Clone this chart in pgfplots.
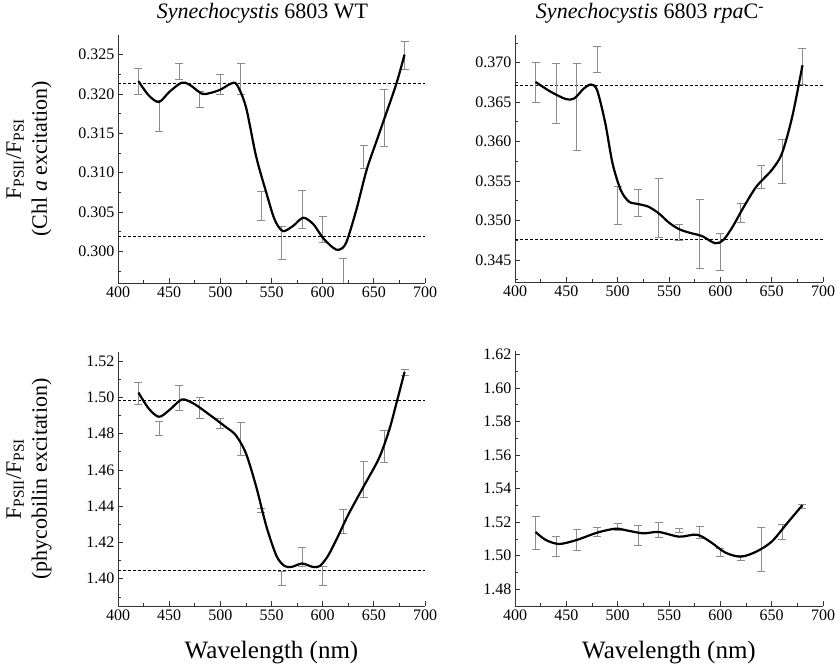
\documentclass[border=0pt]{standalone}
\usepackage{pgfplots}
\pgfplotsset{compat=1.18}
\usepackage{fontspec}
\setmainfont{Liberation Serif}
\definecolor{errgray}{gray}{0.55}
\definecolor{axgray}{gray}{0.2}

\pgfplotsset{
  panel/.style={
    scale only axis,
    xmin=400, xmax=700,
    xtick={400,450,500,550,600,650,700},
    minor xtick={425,475,525,575,625,675},
    axis x line*=bottom, axis y line*=left,
    axis line style={-, line width=0.8pt, axgray},
    tick align=inside, major tick length=5pt, minor tick length=3pt,
    tick style={line width=0.7pt, axgray},
    ticklabel style={font=\fontsize{16}{19}\selectfont},
    /pgf/number format/assume math mode=true,
    scaled y ticks=false,
    title style={font=\fontsize{22}{26}\selectfont, at={(axis description cs:0.5,1)}, anchor=base, yshift=10pt},
    xlabel style={font=\fontsize{25}{29}\selectfont, at={(axis description cs:0.5,0)}, anchor=base, yshift=-52pt},
    ylabel style={font=\fontsize{22}{26}\selectfont, align=center, at={(axis description cs:-0.29,0.5)}, anchor=center, rotate=0},
  },
  curve/.style={black, line width=2.2pt, smooth, mark=none},
  ref/.style={black, line width=0.9pt, dash pattern=on 3pt off 2pt, mark=none},
  ebar/.style={draw=none, mark=none, forget plot,
    error bars/.cd, y dir=both, y explicit,
    error bar style={draw=errgray, solid, line width=0.8pt},
    error mark options={rotate=90, draw=errgray, solid, mark size=4pt, line width=0.8pt}},
}

\begin{document}
\begin{tikzpicture}
\useasboundingbox (0,0) rectangle (837pt,666pt);

% ---------- top left ----------
\begin{axis}[panel, at={(118pt,383pt)}, anchor=south west, width=307pt, height=248pt,
  ymin=0.2960, ymax=0.3275,
  ytick={0.300,0.305,0.310,0.315,0.320,0.325},
  minor ytick={0.2975,0.3025,0.3075,0.3125,0.3175,0.3225},
  yticklabel style={/pgf/number format/.cd, fixed, fixed zerofill, precision=3},
  title={\textit{Synechocystis} 6803 WT}, title style={xshift=-9pt},
  ylabel={F\textsubscript{PSII}/F\textsubscript{PSI}\\(Chl \textit{a} excitation)}]
\addplot[ref] coordinates {(400,0.3213) (700,0.3213)};
\addplot[ref] coordinates {(400,0.3019) (700,0.3019)};
\addplot[ebar] coordinates {
(420,0.3216) +- (0,0.0017)
(440,0.3172) +- (0,0.0020)
(460,0.3229) +- (0,0.0010)
(480,0.3193) +- (0,0.0010)
(500,0.3212) +- (0,0.0013)
(520,0.3219) +- (0,0.0020)
(540,0.3058) +- (0,0.0018)
(560,0.3011) +- (0,0.0021)
(580,0.3053) +- (0,0.0024)
(600,0.3028) +- (0,0.0016)
(620,0.2970) +- (0,0.0021)
(640,0.3120) +- (0,0.0015)
(660,0.3170) +- (0,0.0036)
(680,0.3249) +- (0,0.0018)
};
\addplot[curve] coordinates {
(420,0.32164) (430,0.31983) (440,0.31899) (450,0.32025) (462,0.32143)
(470,0.32118) (482,0.32004) (490,0.32013) (500,0.32055) (510,0.32130)
(516,0.32122) (525,0.31836) (535,0.31206) (545,0.30744) (553,0.30408)
(561,0.30260) (571,0.30324) (581,0.30429) (591,0.30345) (600,0.30176)
(610,0.30050) (616,0.30021) (623,0.30113) (633,0.30534) (643,0.31038)
(653,0.31416) (662,0.31752) (672,0.32130) (680,0.32500)
};
\end{axis}

% ---------- top right ----------
\begin{axis}[panel, at={(515pt,384pt)}, anchor=south west, width=308pt, height=247pt,
  ymin=0.3422, ymax=0.3735,
  ytick={0.345,0.350,0.355,0.360,0.365,0.370},
  minor ytick={0.3425,0.3475,0.3525,0.3575,0.3625,0.3675,0.3725},
  yticklabel style={/pgf/number format/.cd, fixed, fixed zerofill, precision=3},
  title={\textit{Synechocystis} 6803 \textit{rpa}C\textsuperscript{-}}, title style={xshift=-19pt}]
\addplot[ref] coordinates {(400,0.36713) (700,0.36713)};
\addplot[ref] coordinates {(400,0.34761) (700,0.34761)};
\addplot[ebar] coordinates {
(420,0.3675) +- (0,0.0025)
(440,0.3661) +- (0,0.0038)
(460,0.3644) +- (0,0.0055)
(480,0.3704) +- (0,0.0016)
(500,0.3519) +- (0,0.0024)
(520,0.3522) +- (0,0.0017)
(540,0.3516) +- (0,0.0037)
(560,0.3485) +- (0,0.0010)
(580,0.3483) +- (0,0.0044)
(600,0.3460) +- (0,0.0023)
(620,0.3509) +- (0,0.0012)
(640,0.3555) +- (0,0.0015)
(660,0.3575) +- (0,0.0028)
(680,0.3695) +- (0,0.0023)
};
\addplot[curve] coordinates {
(420,0.36755) (435,0.36629) (450,0.36536) (458,0.36549) (467,0.36671)
(474,0.36722) (480,0.36650) (488,0.36228) (495,0.35723) (503,0.35385)
(511,0.35238) (520,0.35208) (530,0.35174) (540,0.35090) (550,0.34972)
(560,0.34888) (572,0.34837) (582,0.34803) (595,0.34711) (603,0.34753)
(612,0.34921) (622,0.35153) (635,0.35427) (650,0.35638) (660,0.35849)
(670,0.36313) (680,0.36966)
};
\end{axis}

% ---------- bottom left ----------
\begin{axis}[panel, at={(118pt,60pt)}, anchor=south west, width=307pt, height=254pt,
  ymin=1.385, ymax=1.525,
  ytick={1.40,1.42,1.44,1.46,1.48,1.50,1.52},
  minor ytick={1.39,1.41,1.43,1.45,1.47,1.49,1.51},
  yticklabel style={/pgf/number format/.cd, fixed, fixed zerofill, precision=2},
  xlabel={Wavelength (nm)},
  ylabel={F\textsubscript{PSII}/F\textsubscript{PSI}\\(phycobilin excitation)}]
\addplot[ref] coordinates {(400,1.49805) (700,1.49805)};
\addplot[ref] coordinates {(400,1.40477) (700,1.40477)};
\addplot[ebar] coordinates {
(420,1.5024) +- (0,0.0061)
(440,1.4829) +- (0,0.0037)
(460,1.4998) +- (0,0.0069)
(480,1.4941) +- (0,0.0058)
(500,1.4856) +- (0,0.0027)
(520,1.4771) +- (0,0.0089)
(540,1.4378) +- (0,0.0012)
(560,1.4003) +- (0,0.0039)
(580,1.4120) +- (0,0.0054)
(600,1.4015) +- (0,0.0051)
(620,1.4315) +- (0,0.0066)
(640,1.4547) +- (0,0.0099)
(660,1.4729) +- (0,0.0087)
(680,1.5137) +- (0,0.0016)
};
\addplot[curve] coordinates {
(420,1.50262) (430,1.49385) (440,1.48927) (450,1.49293) (460,1.49805)
(465,1.49878) (475,1.49622) (490,1.49019) (505,1.48379) (515,1.47921)
(525,1.46915) (535,1.45086) (545,1.42891) (555,1.41245) (563,1.40697)
(570,1.40660) (580,1.40843) (590,1.40660) (597,1.40697) (605,1.41245)
(615,1.42343) (625,1.43531) (640,1.45086) (655,1.46641) (665,1.48196)
(672,1.49659) (680,1.51396)
};
\end{axis}

% ---------- bottom right ----------
\begin{axis}[panel, at={(515pt,60pt)}, anchor=south west, width=308pt, height=255pt,
  ymin=1.47, ymax=1.622,
  ytick={1.48,1.50,1.52,1.54,1.56,1.58,1.60,1.62},
  minor ytick={1.47,1.49,1.51,1.53,1.55,1.57,1.59,1.61},
  yticklabel style={/pgf/number format/.cd, fixed, fixed zerofill, precision=2},
  xlabel={Wavelength (nm)}]
\addplot[ebar] coordinates {
(420,1.5137) +- (0,0.0099)
(440,1.5054) +- (0,0.0060)
(460,1.5094) +- (0,0.0060)
(480,1.5141) +- (0,0.0028)
(500,1.5173) +- (0,0.0020)
(520,1.5123) +- (0,0.0060)
(540,1.5153) +- (0,0.0044)
(560,1.5150) +- (0,0.0013)
(580,1.5140) +- (0,0.0037)
(600,1.5019) +- (0,0.0025)
(620,1.4989) +- (0,0.0015)
(640,1.5038) +- (0,0.0129)
(660,1.5143) +- (0,0.0044)
(680,1.5295) +- (0,0.0013)
};
\addplot[curve] coordinates {
(420,1.51411) (430,1.50935) (443,1.50697) (460,1.50935) (480,1.51371)
(498,1.51609) (510,1.51490) (525,1.51332) (540,1.51411) (560,1.51133)
(577,1.51252) (590,1.50836) (605,1.50181) (620,1.49943) (635,1.50241)
(650,1.50836) (665,1.51927) (680,1.53017)
};
\end{axis}
\end{tikzpicture}
\end{document}
